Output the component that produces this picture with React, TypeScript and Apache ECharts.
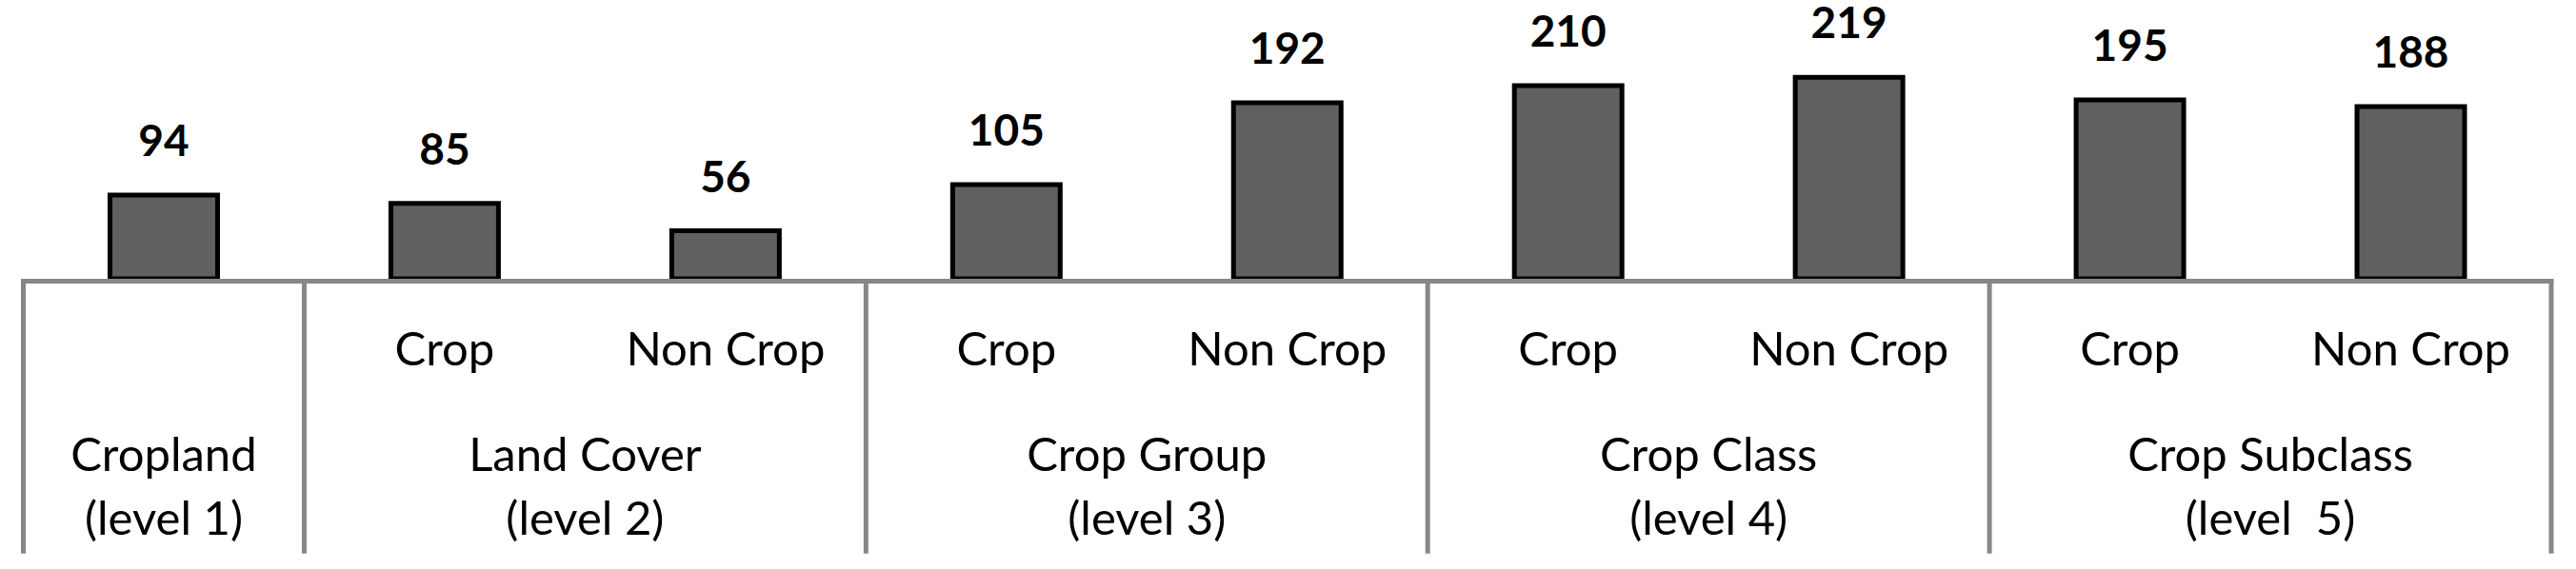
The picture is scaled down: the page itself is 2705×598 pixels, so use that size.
import React, { useEffect, useRef } from "react";
import * as echarts from "echarts";

const categories = [
  "Cropland",
  "Land Cover Crop",
  "Land Cover Non Crop",
  "Crop Group Crop",
  "Crop Group Non Crop",
  "Crop Class Crop",
  "Crop Class Non Crop",
  "Crop Subclass Crop",
  "Crop Subclass Non Crop",
];
const subLabels = ["", "Crop", "Non Crop", "Crop", "Non Crop", "Crop", "Non Crop", "Crop", "Non Crop"];
const values = [94, 85, 56, 105, 192, 210, 219, 195, 188];
const groupLabels = [
  "Cropland\n(level 1)",
  "Land Cover\n(level 2)",
  "Crop Group\n(level 3)",
  "Crop Class\n(level 4)",
  "Crop Subclass\n(level  5)",
];
const groupStart = [0, 1, 3, 5, 7];
const groupEnd = [0, 2, 4, 6, 8];

const FONT = "Lato, 'Open Sans', sans-serif";

export default function App() {
  const ref = useRef<HTMLDivElement>(null);
  useEffect(() => {
    if (!ref.current) return;
    const chart = echarts.init(ref.current, null, { renderer: "svg" });
    chart.setOption({
      animation: false,
      backgroundColor: "#ffffff",
      grid: { left: 24.5, right: 26, top: 0.5, bottom: 302.5, containLabel: false },
      xAxis: {
        type: "category",
        data: categories,
        z: 10,
        axisLine: { show: true, lineStyle: { color: "#878787", width: 5 } },
        axisTick: { show: false },
        axisLabel: {
          show: true,
          interval: 0,
          margin: 69,
          verticalAlign: "middle",
          fontFamily: FONT,
          fontSize: 49,
          color: "#000000",
          formatter: (_v: string, i: number) => subLabels[i],
        },
        splitLine: { show: false },
      },
      yAxis: {
        type: "value",
        min: 0,
        max: 298,
        show: false,
        splitLine: { show: false },
      },
      series: [
        {
          type: "bar",
          data: values,
          barWidth: "40%",
          itemStyle: { color: "#606060", borderColor: "#000000", borderWidth: 5 },
          label: {
            show: true,
            position: "top",
            distance: 39,
            fontFamily: FONT,
            fontSize: 46,
            lineHeight: 34,
            fontWeight: "bold",
            color: "#000000",
          },
        },
      ],
    });

    const xs = values.map((_, i) => chart.convertToPixel({ xAxisIndex: 0 }, i) as number);
    const band = xs[1] - xs[0];
    const axisY = chart.convertToPixel({ yAxisIndex: 0 }, 0) as number;
    const bottomY = 581.7;
    const boundaries: number[] = [];
    groupStart.forEach((s) => boundaries.push(xs[s] - band / 2));
    boundaries.push(xs[groupEnd[groupEnd.length - 1]] + band / 2);

    const graphics: any[] = [];
    boundaries.forEach((bx) => {
      graphics.push({
        type: "line",
        shape: { x1: bx, y1: axisY - 2.5, x2: bx, y2: bottomY },
        style: { stroke: "#878787", lineWidth: 5 },
        z: 10,
      });
    });
    groupLabels.forEach((lbl, g) => {
      const cx = (xs[groupStart[g]] + xs[groupEnd[g]]) / 2;
      graphics.push({
        type: "text",
        x: cx,
        y: 509.5,
        style: {
          text: lbl,
          fontFamily: FONT,
          fontSize: 49,
          lineHeight: 67,
          fill: "#000000",
          align: "center",
          verticalAlign: "middle",
        },
        z: 10,
      });
    });
    chart.setOption({ graphic: graphics });

    return () => chart.dispose();
  }, []);
  return (
    <div
      ref={ref}
      style={{ position: "absolute", left: 0, top: 0, width: 2705, height: 598, background: "#fff" }}
    />
  );
}
